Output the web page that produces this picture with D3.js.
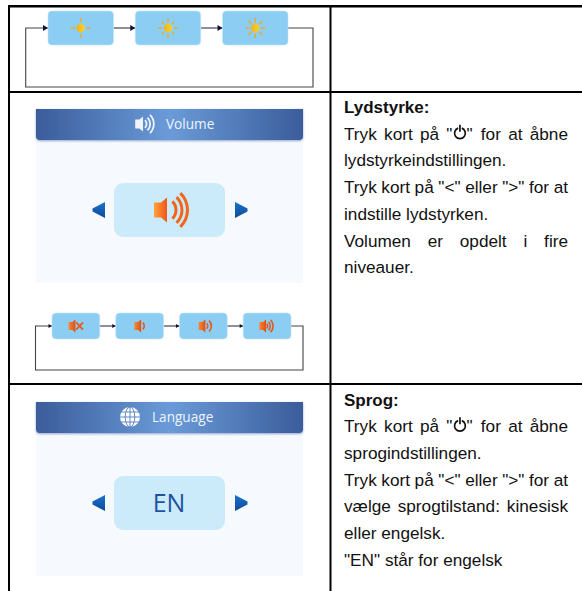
<!DOCTYPE html>
<html>
<head>
<meta charset="utf-8">
<script src="https://cdn.jsdelivr.net/npm/d3@7"></script>
<style>
  html, body { margin: 0; padding: 0; background: #fff; }
  svg { display: block; }
  text { font-family: "Liberation Sans", Arial, sans-serif; }
</style>
</head>
<body>
<div id="page"></div>
<script>
// Contents of the page
const brightnessLevels = [4, 8, 12]
const volumeLevels = [0, 1, 2, 3]
const volumeTitle = "Volume"
const languageTitle = "Language"
const languageValue = "EN"
const volumeHeading = "Lydstyrke:"
const volumeLines = [
  { words: ['Tryk', 'kort', 'på', '"@"', 'for', 'at', 'åbne'], justify: true },
  { words: ['lydstyrkeindstillingen.'] },
  { words: ['Tryk', 'kort', 'på', '"<"', 'eller', '">"', 'for', 'at'], justify: true },
  { words: ['indstille', 'lydstyrken.'] },
  { words: ['Volumen', 'er', 'opdelt', 'i', 'fire'], justify: true },
  { words: ['niveauer.'] }
]
const languageHeading = "Sprog:"
const languageLines = [
  { words: ['Tryk', 'kort', 'på', '"@"', 'for', 'at', 'åbne'], justify: true },
  { words: ['sprogindstillingen.'] },
  { words: ['Tryk', 'kort', 'på', '"<"', 'eller', '">"', 'for', 'at'], justify: true },
  { words: ['vælge', 'sprogtilstand:', 'kinesisk'], justify: true },
  { words: ['eller', 'engelsk.'] },
  { words: ['"EN"', 'står', 'for', 'engelsk'] }
]

const width = 582
const height = 591
const textLeft = 344
const textRight = 568
const lineStep = 26.7

const svg = d3.select("#page").append("svg")
  .attr("width", width)
  .attr("height", height)

const defs = svg.append("defs")

function gradient(id, stops, x2 = 1, y2 = 0) {
  const g = defs.append("linearGradient").attr("id", id)
    .attr("x1", 0).attr("y1", 0).attr("x2", x2).attr("y2", y2)
  stops.forEach(([o, c]) => g.append("stop").attr("offset", o).attr("stop-color", c))
}
gradient("headerFill", [[0, "#3b5c9b"], [0.5, "#6a9bd8"], [1, "#3b5c9b"]])
gradient("arrowFill", [[0, "#1a73cf"], [1, "#0f4a98"]], 0, 1)
gradient("speakerFill", [[0, "#ffa03c"], [1, "#f0561a"]])
gradient("smallSpeakerFill", [[0, "#f58a33"], [1, "#e04e17"]])
gradient("sunFill", [[0, "#f0b21c"], [1, "#f7d430"]])

const shadow = defs.append("filter").attr("id", "headerShadow")
  .attr("x", "-5%").attr("y", "-10%").attr("width", "110%").attr("height", "130%")
shadow.append("feDropShadow").attr("dx", 0).attr("dy", 1).attr("stdDeviation", 1)
  .attr("flood-color", "#3b5c9b").attr("flood-opacity", 0.55)

// Table borders
const borders = svg.append("g").attr("stroke", "#000")
;[[6.3, 2.6], [92, 2], [384, 2]].forEach(([y, w]) => borders.append("line")
  .attr("stroke-width", w)
  .attr("x1", 8).attr("x2", width).attr("y1", y).attr("y2", y))
;[9, 330.5].forEach(x => borders.append("line")
  .attr("stroke-width", 2)
  .attr("x1", x).attr("x2", x).attr("y1", 5).attr("y2", height))

function drawFlow(domain, left, right, top, bottom, loopLeft, loopRight, loopBottom, headSize, drawIcon) {
  const x = d3.scaleBand().domain(domain).range([left, right]).paddingInner(0.25)
  const midY = (top + bottom) / 2
  const g = svg.append("g")

  // return line round the back of the boxes
  g.append("path")
    .attr("fill", "none").attr("stroke", "#444").attr("stroke-width", 1.1)
    .attr("d", d3.line()([
      [x(domain[domain.length - 1]) + x.bandwidth(), midY],
      [loopRight, midY], [loopRight, loopBottom], [loopLeft, loopBottom], [loopLeft, midY],
      [x(domain[0]), midY]
    ]))

  domain.slice(1).forEach((d, i) => {
    g.append("line")
      .attr("x1", x(domain[i]) + x.bandwidth()).attr("x2", x(d))
      .attr("y1", midY).attr("y2", midY)
      .attr("stroke", "#1c1c40").attr("stroke-width", 1)
  })
  domain.forEach(d => {
    g.append("path").attr("fill", "#10103a")
      .attr("d", `M${x(d)},${midY}l${-headSize},${-headSize * 0.6}v${headSize * 1.2}z`)
  })

  const boxes = g.selectAll(".box").data(domain).join("g").attr("class", "box")
  boxes.append("rect")
    .attr("x", d => x(d)).attr("y", top)
    .attr("width", x.bandwidth()).attr("height", bottom - top)
    .attr("rx", 4)
    .attr("fill", "#8ccdf4").attr("stroke", "#bfe3f9").attr("stroke-width", 0.6)
  boxes.each(function(d) {
    drawIcon(d3.select(this), x(d) + x.bandwidth() / 2, midY, d)
  })
}

function drawSun(g, cx, cy, rays) {
  const angle = d3.scaleLinear().domain([0, 8]).range([0, 2 * Math.PI])
  const show = d3.range(8).filter(i => rays > 4 || i % 2 == 0)
  const rIn = rays > 8 ? 5.5 : 6
  g.selectAll(".ray").data(show).join("line").attr("class", "ray")
    .attr("x1", i => cx + rIn * Math.cos(angle(i)))
    .attr("y1", i => cy + rIn * Math.sin(angle(i)))
    .attr("x2", i => cx + (i % 2 == 0 ? 10 : (rays > 8 ? 10 : 9)) * Math.cos(angle(i)))
    .attr("y2", i => cy + (i % 2 == 0 ? 10 : (rays > 8 ? 10 : 9)) * Math.sin(angle(i)))
    .attr("stroke", "#f2a71b").attr("stroke-width", 1.3)
  g.append("circle").attr("cx", cx).attr("cy", cy).attr("r", 4.4).attr("fill", "url(#sunFill)")
}

// speaker with cone tip at (cx, cy), k = 1 for the big one
function drawSpeaker(g, cx, cy, k, radii, fill, waveFill, mute) {
  const s = g.append("g").attr("transform", `translate(${cx},${cy}) scale(${k})`)
  s.append("path").attr("fill", fill)
    .attr("d", "M-13,-7.5H-6L0,-12.5V12.5L-6,7.5H-13Z")
  const arc = d3.arc().innerRadius(d => d - 1.5).outerRadius(d => d + 1.5)
    .startAngle(Math.PI / 2 - 0.8).endAngle(Math.PI / 2 + 0.8)
  s.selectAll(".wave").data(radii).join("path").attr("class", "wave")
    .attr("transform", "translate(-3,0)")
    .attr("fill", waveFill).attr("d", arc)
  if (mute) {
    s.append("path").attr("fill", "none").attr("stroke", "#e85a1a").attr("stroke-width", 3.4)
      .attr("d", "M1.5,-7L14.5,7M1.5,7L14.5,-7")
  }
}

function drawPanel(top, bottom, title, titleX, drawHeaderIcon, drawCenter) {
  const g = svg.append("g")
  g.append("rect").attr("x", 36).attr("y", top).attr("width", 267).attr("height", bottom - top)
    .attr("fill", "#f6faff")
  g.append("path")
    .attr("d", `M36,${top}H303V${top + 27}a4,4 0 0 1 -4,4H40a4,4 0 0 1 -4,-4Z`)
    .attr("fill", "url(#headerFill)").attr("filter", "url(#headerShadow)")
  g.append("text").attr("x", titleX).attr("y", top + 20)
    .attr("fill", "#eef4fc")
    .style("font-family", '"Open Sans"').style("font-size", "13.6px")
    .text(title)
  drawHeaderIcon(g, top + 15)
  const boxY = top + 74
  g.append("rect").attr("x", 114).attr("y", boxY).attr("width", 111).attr("height", 54)
    .attr("rx", 9).attr("fill", "#cbebfa")
  const midY = boxY + 27
  g.append("path").attr("fill", "url(#arrowFill)")
    .attr("d", `M92.5,${midY - 1.5}L105,${midY - 8}V${midY + 8}L92.5,${midY + 1.5}Z`)
  g.append("path").attr("fill", "url(#arrowFill)")
    .attr("d", `M247.5,${midY - 1.5}L235,${midY - 8}V${midY + 8}L247.5,${midY + 1.5}Z`)
  drawCenter(g, midY)
}

function drawGlobe(g, cx, cy) {
  const r = 10
  g.append("circle").attr("cx", cx).attr("cy", cy).attr("r", r).attr("fill", "#fff")
  const c = g.append("g").attr("fill", "none").attr("stroke", "#5c88c4").attr("stroke-width", 1)
  c.append("ellipse").attr("cx", cx).attr("cy", cy).attr("rx", 4.8).attr("ry", r)
  c.append("line").attr("x1", cx).attr("x2", cx).attr("y1", cy - r).attr("y2", cy + r)
  ;[-5, 0, 5].forEach(d => c.append("line")
    .attr("x1", cx - r).attr("x2", cx + r).attr("y1", cy + d).attr("y2", cy + d))
}

// small speakers in the volume cycle: tip offset from box centre and wave radii per level
const speakerOffset = d3.scaleOrdinal().domain(volumeLevels).range([-0.5, 1.5, 2, -1])
const speakerWaves = d3.scaleOrdinal().domain(volumeLevels).range([[], [9], [7.5, 14.5], [6, 11, 16.5]])

drawFlow(brightnessLevels, 48, 288, 11, 45, 25.7, 313, 87, 5, (g, cx, cy, d) => drawSun(g, cx, cy, d))
drawFlow(volumeLevels, 52, 291, 313, 339, 35.5, 303, 370, 3.5, (g, cx, cy, d) =>
  drawSpeaker(g, cx + speakerOffset(d), cy, 0.52, speakerWaves(d), "url(#smallSpeakerFill)", "#e4561a", d == 0))

drawPanel(109, 283, volumeTitle, 166, (g, y) => {
  drawSpeaker(g, 143, y, 0.6, [9, 15, 21], "#eef4fc", "#eef4fc", false)
}, (g, y) => drawSpeaker(g, 167, y, 1, [12, 18, 23.5], "url(#speakerFill)", "#f2661c", false))

drawPanel(402, 576, languageTitle, 152, (g, y) => drawGlobe(g, 130, y), (g, y) => {
  g.append("text").attr("x", 169).attr("y", y + 9).attr("text-anchor", "middle")
    .attr("fill", "#1f52a3")
    .style("font-family", '"Open Sans"').style("font-size", "25px")
    .text(languageValue)
})

// Right hand text column
function drawPowerIcon(g, x, y) {
  const c = g.append("g").attr("fill", "none").attr("stroke", "#111").attr("stroke-width", 1.7)
  c.append("path").attr("d", d3.arc().innerRadius(5.4).outerRadius(5.4)
    .startAngle(0.35).endAngle(2 * Math.PI - 0.35)()).attr("transform", `translate(${x + 6.5},${y - 6.5})`)
  c.append("line").attr("x1", x + 6.5).attr("x2", x + 6.5).attr("y1", y - 15).attr("y2", y - 8)
}

function drawTextBlock(heading, lines, baseline) {
  const g = svg.append("g").attr("fill", "#111").style("font-size", "17.2px")
  g.append("text").attr("x", textLeft).attr("y", baseline)
    .style("font-weight", 700).style("font-size", "17px").text(heading)
  const measure = g.append("text").attr("visibility", "hidden")
  const widthOf = s => measure.text(s).node().getComputedTextLength()
  const quote = widthOf('"')
  const iconW = 13
  const wordW = w => w.includes("@") ? quote * 2 + iconW + 2 : widthOf(w)
  const space = widthOf("a b") - widthOf("ab")

  lines.forEach((line, i) => {
    const y = baseline + lineStep * (i + 1)
    const total = d3.sum(line.words, wordW)
    const gap = line.justify ? (textRight - textLeft - total) / (line.words.length - 1) : space
    let x = textLeft
    line.words.forEach(w => {
      if (w.includes("@")) {
        g.append("text").attr("x", x).attr("y", y).text('"')
        drawPowerIcon(g, x + quote + 1, y)
        g.append("text").attr("x", x + quote + iconW + 1).attr("y", y).text('"')
      } else {
        g.append("text").attr("x", x).attr("y", y).text(w)
      }
      x += wordW(w) + gap
    })
  })
  measure.remove()
}

drawTextBlock(volumeHeading, volumeLines, 113)
drawTextBlock(languageHeading, languageLines, 405.5)
</script>
</body>
</html>
